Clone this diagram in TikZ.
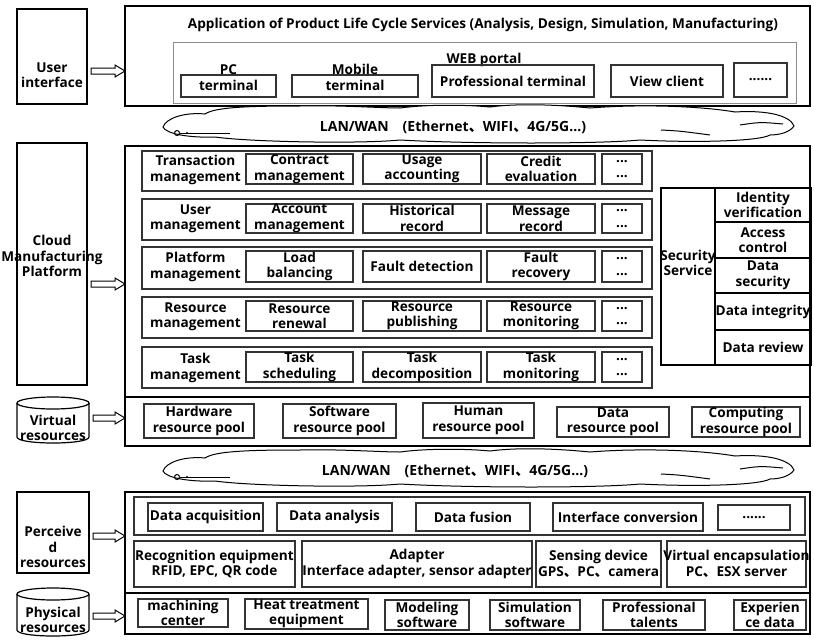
\documentclass[tikz,border=0pt]{standalone}
\usepackage{fontspec}
\setmainfont{Open Sans}
\newfontfamily\cjk{Noto Sans CJK SC}
\usetikzlibrary{calc}

% frame node given by its corners (x1,y1) (x2,y2)
\newcommand\frm[6][item]{%
  \node[#1,frame,minimum width={#5-#3},minimum height={#6-#4}] (#2) at ({(#3+#5)/2},{(#4+#6)/2}) {};}
% frame node with a centred caption
\newcommand\bbox[7][item]{%
  \frm[#1]{#2}{#3}{#4}{#5}{#6}%
  \node[txt] (#2-t) at (#2.center) {#7};}
% hollow block arrow from the east side of #1 to the west side of #2 at the height of #3
\newcommand\harrow[3]{%
  \draw[arr] ($(#1.east|-#3)+(4,-3)$) -- ($(#2.west|-#3)+(-10,-3)$) -- ($(#2.west|-#3)+(-10,-6)$)
    -- (#2.west|-#3) -- ($(#2.west|-#3)+(-10,6)$) -- ($(#2.west|-#3)+(-10,3)$)
    -- ($(#1.east|-#3)+(4,3)$) -- cycle;}
% network cloud outline with its inner strokes
\newcommand\netcloud{%
  \draw[cloudline,fill=white] (163,127)
    .. controls (166,118) and (185,112) .. (205,114)
    .. controls (215,107) and (250,106) .. (300,106)
    .. controls (340,105) and (380,108) .. (400,108)
    .. controls (430,104) and (470,105) .. (490,107)
    .. controls (520,103) and (560,105) .. (590,108)
    .. controls (640,104) and (700,106) .. (735,112)
    .. controls (765,110) and (790,115) .. (794,126)
    .. controls (790,132) and (780,135) .. (770,135)
    .. controls (760,141) and (700,143) .. (640,140)
    .. controls (600,144) and (470,144) .. (400,140)
    .. controls (360,144) and (250,142) .. (215,137)
    .. controls (190,138) and (166,134) .. (163,127) -- cycle;
  \draw[cloudline] (177,133) circle[radius=2.5];
  \draw[cloudline] (179.5,133) -- (230,133);
  \fill (187,133) circle[radius=1.2];
  \draw[cloudline] (661,130) .. controls (680,131) .. (710,135);
  \draw[cloudline] (740,125) .. controls (760,122) .. (783,124);}

\begin{document}
\begin{tikzpicture}[x=1pt,y=-1pt,
  frame/.style={inner sep=0pt,outer sep=0pt},
  heavy/.style={draw=black,line width=1.6pt},
  side/.style={draw=black,line width=1.2pt},
  item/.style={draw=black!80,line width=1.1pt},
  portal/.style={draw=black!45,line width=1pt},
  txt/.style={font=\bfseries\fontsize{13.6}{15.5}\selectfont,align=center,inner sep=0pt},
  cloudtxt/.style={font=\bfseries\fontsize{14}{16}\selectfont,inner sep=0pt},
  arr/.style={draw=black,line width=1pt,fill=white,line join=miter},
  cloudline/.style={draw=black,line width=1pt},
  cyl/.style={draw=black,line width=1.2pt},
]
\useasboundingbox[fill=white] (0,0) rectangle (814,640);

% ---------- application layer ----------
\frm[heavy]{app}{125}{6}{810}{106}
\node[txt] (title) at (483,25) {Application of Product Life Cycle Services (Analysis, Design, Simulation, Manufacturing)};
\frm[portal]{web}{173}{42}{796}{103}
\node[txt] (web-t) at (484,60) {WEB portal};
\frm{pc}{181}{75}{276}{97}
\node[txt] (pc-t) at (228.5,77.5) {PC\\terminal};
\frm{mob}{292}{75}{418}{97}
\node[txt] (mob-t) at (355,77.5) {Mobile\\terminal};
\bbox{prof}{432}{65}{594}{97}{Professional terminal}
\bbox{view}{611}{65}{723}{97}{View client}
\bbox{more}{734}{63}{787}{97}{......}

% ---------- upper network ----------
\netcloud
\node[cloudtxt] (lan1) at (453,127) {LAN/WAN\quad(Ethernet{\cjk 、}WIFI{\cjk 、}4G/5G...)};

% ---------- cloud manufacturing platform ----------
\frm[heavy]{plat}{125}{146}{810}{397}

\frm{r1}{142}{151}{652}{191}
\node[txt] (r1-t) at (195.5,170) {Transaction\\management};
\bbox{r1a}{246}{154}{353}{184}{Contract\\management}
\bbox{r1b}{363}{154}{481}{184}{Usage\\accounting}
\bbox{r1c}{487}{154}{595}{184}{Credit\\evaluation}
\bbox{r1d}{602}{154}{642}{184}{...\\...}

\frm{r2}{142}{199}{652}{240}
\node[txt] (r2-t) at (195.5,219) {User\\management};
\bbox{r2a}{246}{204}{353}{233}{Account\\management}
\bbox{r2b}{363}{204}{481}{233}{Historical\\record}
\bbox{r2c}{487}{204}{595}{233}{Message\\record}
\bbox{r2d}{602}{204}{642}{233}{...\\...}

\frm{r3}{142}{247}{652}{289}
\node[txt] (r3-t) at (195.5,267) {Platform\\management};
\bbox{r3a}{246}{251}{353}{282}{Load\\balancing}
\bbox{r3b}{363}{251}{481}{282}{Fault detection}
\bbox{r3c}{487}{251}{595}{282}{Fault\\recovery}
\bbox{r3d}{602}{251}{642}{282}{...\\...}

\frm{r4}{142}{297}{652}{338}
\node[txt] (r4-t) at (195.5,317) {Resource\\management};
\bbox{r4a}{246}{301}{353}{331}{Resource\\renewal}
\bbox{r4b}{363}{301}{481}{331}{Resource\\publishing}
\bbox{r4c}{487}{301}{595}{331}{Resource\\monitoring}
\bbox{r4d}{602}{301}{642}{331}{...\\...}

\frm{r5}{142}{347}{652}{388}
\node[txt] (r5-t) at (195.5,368) {Task\\management};
\bbox{r5a}{246}{352}{353}{382}{Task\\scheduling}
\bbox{r5b}{363}{352}{481}{382}{Task\\decomposition}
\bbox{r5c}{487}{352}{595}{382}{Task\\monitoring}
\bbox{r5d}{602}{352}{642}{382}{...\\...}

% security service column
\frm[side]{sec}{661}{188}{715}{365}
\node[txt] (sec-t) at (688,263) {Security\\Service};
\bbox[side]{sec1}{715}{188}{811}{222}{Identity\\verification}
\bbox[side]{sec2}{715}{222}{811}{258}{Access\\control}
\bbox[side]{sec3}{715}{258}{811}{293}{Data\\security}
\bbox[side]{sec4}{715}{293}{811}{330}{Data integrity}
\bbox[side]{sec5}{715}{330}{811}{365}{Data review}

% ---------- virtual resource pools ----------
\frm[heavy]{virt}{125}{397}{810}{446}
\bbox{vp1}{144}{404}{254}{438}{Hardware\\resource pool}
\bbox{vp2}{283}{404}{396}{438}{Software\\resource pool}
\bbox{vp3}{423}{403}{534}{438}{Human\\resource pool}
\bbox{vp4}{557}{407}{669}{437}{Data\\resource pool}
\bbox{vp5}{692}{407}{800}{437}{Computing\\resource pool}

% ---------- lower network ----------
\begin{scope}[shift={(0,344)}]
\netcloud
\end{scope}
\node[cloudtxt] (lan2) at (455,471) {LAN/WAN\quad(Ethernet{\cjk 、}WIFI{\cjk 、}4G/5G...)};

% ---------- perception layer ----------
\frm[heavy]{perc}{125}{492}{810}{593}
\frm{proc}{134}{497}{805}{535}
\bbox{pa}{148}{503}{263}{531}{Data acquisition}
\bbox{pb}{277}{503}{392}{531}{Data analysis}
\bbox{pc2}{416}{503}{530}{531}{Data fusion}
\bbox{pd}{553}{503}{703}{531}{Interface conversion}
\bbox{pe}{718}{505}{790}{530}{......}
\bbox{dev1}{134}{541}{295}{587}{Recognition equipment\\RFID, EPC, QR code}
\bbox{dev2}{302}{541}{532}{587}{Adapter\\Interface adapter, sensor adapter}
\bbox{dev3}{536}{541}{661}{587}{Sensing device\\GPS{\cjk 、}PC{\cjk 、}camera}
\bbox{dev4}{667}{541}{806}{587}{Virtual encapsulation\\PC{\cjk 、}ESX server}

% ---------- physical resources ----------
\frm[heavy]{phys}{125}{593}{810}{634}
\bbox{ph1}{138}{599}{228}{627}{machining\\center}
\bbox{ph2}{245}{599}{368}{629}{Heat treatment\\equipment}
\bbox{ph3}{385}{600}{469}{630}{Modeling\\software}
\bbox{ph4}{490}{600}{580}{630}{Simulation\\software}
\bbox{ph5}{603}{600}{705}{630}{Professional\\talents}
\bbox{ph6}{734}{600}{806}{630}{Experien\\ce data}

% ---------- layer labels on the left ----------
\frm[side]{ui}{17}{9}{87}{104}
\node[txt] (ui-t) at (52,75) {User\\interface};
\frm[side]{cmp}{17}{143}{87}{385}
\node[txt] (cmp-t) at (52,256) {Cloud\\Manufacturing\\Platform};

\node[frame,minimum width=72,minimum height=46] (vr) at (53,420) {};
\draw[cyl] (53,403) ellipse[x radius=36,y radius=6];
\draw[cyl] (17,403) -- (17,437) .. controls (17,445) and (89,445) .. (89,437) -- (89,403);
\node[txt] (vr-t) at (53,428) {Virtual\\resources};

\frm[side]{pr}{17}{492}{89}{573}
\node[txt] (pr-t) at (53,547) {Perceive\\d\\resources};

\node[frame,minimum width=72,minimum height=49] (phr) at (53,612.5) {};
\draw[cyl] (53,594) ellipse[x radius=36,y radius=6];
\draw[cyl] (17,594) -- (17,630) .. controls (17,638) and (89,638) .. (89,630) -- (89,594);
\node[txt] (phr-t) at (53,620) {Physical\\resources};

% ---------- connectors ----------
\coordinate (y1) at (0,71);
\coordinate (y2) at (0,284);
\coordinate (y3) at (0,418);
\coordinate (y4) at (0,536);
\coordinate (y5) at (0,616);
\harrow{ui}{app}{y1}
\harrow{cmp}{plat}{y2}
\harrow{vr}{virt}{y3}
\harrow{pr}{perc}{y4}
\harrow{phr}{phys}{y5}
\end{tikzpicture}
\end{document}
